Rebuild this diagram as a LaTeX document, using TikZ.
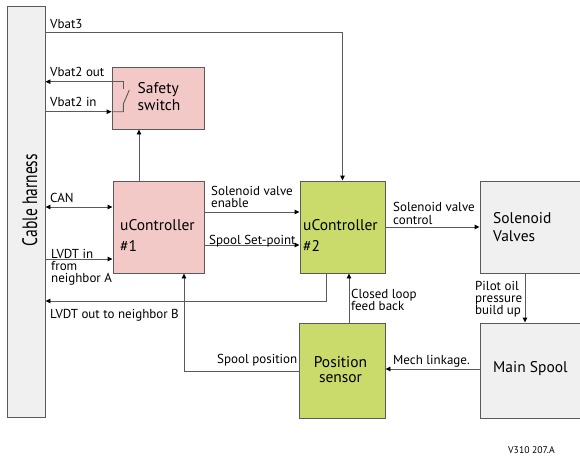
\documentclass[tikz,border=0pt]{standalone}
\usepackage{fontspec}
\setmainfont{PT Sans}
\usetikzlibrary{arrows.meta}
\definecolor{pinkf}{HTML}{F2C9C6}
\definecolor{greenf}{HTML}{CADB6C}
\definecolor{grayf}{HTML}{F0F0F0}
\definecolor{linec}{HTML}{5A5A5A}
\begin{document}
\begin{tikzpicture}[x=1pt,y=-1pt,
  box/.style={draw=linec, line width=0.9pt, rectangle, inner sep=0pt},
  conn/.style={draw=linec, line width=0.9pt},
  tip/.tip={Triangle[length=5pt,width=4.5pt,fill=black,color=black]},
  arr/.style={conn, -tip},
  lbl/.style={font=\fontsize{13}{12}\selectfont, inner sep=0pt, align=left, anchor=base west},
  big/.style={font=\fontsize{15.5}{17}\selectfont, inner sep=0pt, align=left, anchor=base west}]
\useasboundingbox (0,0) rectangle (580,458);
% boxes
\node[box, fill=grayf, minimum width=38pt, minimum height=411pt] (harn) at (26,211.5) {};
\node[big, rotate=90, anchor=base] (harnt) at (37,200) {\scalebox{1}[1.35]{Cable harness}};
\node[box, fill=pinkf, minimum width=92pt, minimum height=62pt] (ss) at (158,98) {};
\node[box, fill=pinkf, minimum width=91pt, minimum height=92pt] (uc1) at (158.5,227) {};
\node[box, fill=greenf, minimum width=85pt, minimum height=92pt] (uc2) at (342.5,227) {};
\node[box, fill=grayf, minimum width=102pt, minimum height=92pt] (sv) at (531,227) {};
\node[box, fill=greenf, minimum width=86pt, minimum height=95pt] (ps) at (342,370.5) {};
\node[box, fill=grayf, minimum width=102pt, minimum height=95pt] (ms) at (531,370.5) {};
% box texts (base = baseline of last line)
\node[big] (sst) at (137.5,110) {Safety\\switch};
\node[big] (uc1a) at (120,230) {uController};
\node[big] (uc1b) at (120,251) {\#1};
\node[big] (uc2a) at (303,230) {uController};
\node[big] (uc2b) at (303,251) {\#2};
\node[big, font=\fontsize{15.5}{18}\selectfont] (svt) at (493,241) {Solenoid\\Valves};
\node[big, anchor=base, align=center, font=\fontsize{15.5}{15}\selectfont] (pst) at (340.5,382) {Position\\sensor};
\node[big] (mst) at (493,372) {Main Spool};
% connectors
\draw[arr] (harn.east |- 0,32) -| (uc2.north);
\draw[arr] (123.3,89) -- (123.3,81.7) -- (harn.east |- 0,81.7);
\draw[arr] (harn.east |- 0,111.7) -- (ss.west |- 0,111.7);
\draw[conn] (ss.west |- 0,111.7) -- (123.3,111.7) -- (123.3,104) -- (129.3,90);
\draw[arr] (uc1.north -| 139,0) -- (ss.south -| 139,0);
\draw[conn, tip-tip] (harn.east |- 0,207) -- (uc1.west |- 0,207);
\draw[arr] (harn.east |- 0,259) -- (uc1.west |- 0,259);
\draw[arr] (uc2.south -| 326,0) |- (harn.east |- 0,301);
\draw[arr] (uc1.east |- 0,212) -- (uc2.west |- 0,212);
\draw[arr] (uc1.east |- 0,245) -- (uc2.west |- 0,245);
\draw[arr] (uc2.east) -- (sv.west);
\draw[arr] (sv.south -| 525,0) -- (ms.north -| 525,0);
\draw[arr] (ms.west |- 0,369) -- (ps.east |- 0,369);
\draw[arr] (ps.north -| 349,0) -- (uc2.south -| 349,0);
\draw[arr] (ps.west |- 0,371) -| (uc1.south -| 184,0);
% labels
\node[lbl] (l1) at (50,28) {Vbat3};
\node[lbl] (l2) at (50,76) {Vbat2 out};
\node[lbl] (l3) at (50,106) {Vbat2 in};
\node[lbl] (l4) at (50,202) {CAN};
\node[lbl] (l5) at (51,282) {LVDT in\\from\\neighbor A};
\node[lbl] (l6) at (50,318) {LVDT out to neighbor B};
\node[lbl] (l7) at (211,207.5) {Solenoid valve\\enable};
\node[lbl] (l8) at (209,244) {Spool Set-point};
\node[lbl, font=\fontsize{13}{13}\selectfont] (l9) at (393,224) {Solenoid valve\\control};
\node[lbl] (l10) at (475,314) {Pilot oil\\pressure\\build up};
\node[lbl] (l11) at (351,310.5) {Closed loop\\feed back};
\node[lbl] (l12) at (217,363) {Spool position};
\node[lbl] (l13) at (393,364) {Mech linkage.};
\node[lbl, font=\fontsize{9.7}{11}\selectfont] (l14) at (508,453) {V310 207.A};
\end{tikzpicture}
\end{document}
